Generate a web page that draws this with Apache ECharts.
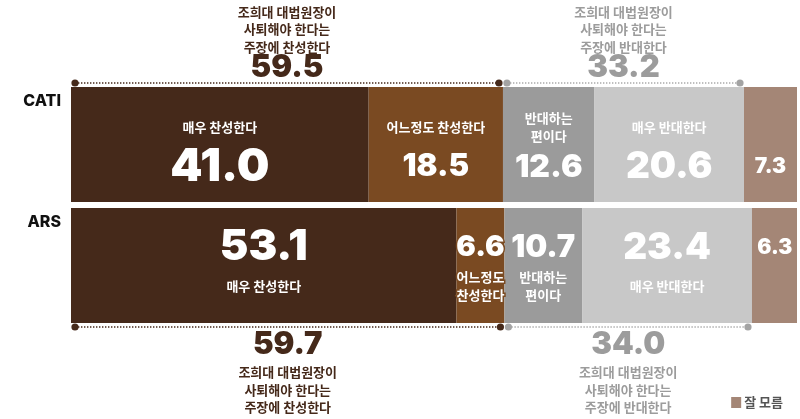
<!DOCTYPE html>
<html>
<head>
<meta charset="utf-8">
<script src="https://cdn.jsdelivr.net/npm/echarts@6/dist/echarts.min.js"></script>
<style>
html, body { margin: 0; padding: 0; background: #fff; }
#chart { width: 800px; height: 419px; }
</style>
</head>
<body>
<div id="chart"></div>
<script>
// survey rows and answer groups
var rows = ['CATI', 'ARS'];
var answers = ['매우 찬성한다', '어느정도 찬성한다', '반대하는 편이다', '매우 반대한다', '잘 모름'];
var catiValues = [41.0, 18.5, 12.6, 20.6, 7.3];
var arsValues = [53.1, 6.6, 10.7, 23.4, 6.3];
// names as printed inside the bars (line breaks differ per row)
var catiNames = ['매우 찬성한다', '어느정도 찬성한다', '반대하는\n편이다', '매우 반대한다', ''];
var arsNames = ['매우 찬성한다', '어느정도\n찬성한다', '반대하는\n편이다', '매우 반대한다', ''];
// summed groups: agree / oppose
var agreeTotals = [59.5, 59.7];
var opposeTotals = [33.2, 34.0];
var agreeCaption = '조희대 대법원장이\n사퇴해야 한다는\n주장에 찬성한다';
var opposeCaption = '조희대 대법원장이\n사퇴해야 한다는\n주장에 반대한다';

// styling
var colors = ['#45291a', '#7a4a22', '#9b9b9b', '#c8c8c8', '#a48676'];
var valueSizes = [[46, 31, 32, 37, 21], [43, 29, 31, 37, 21]];
var numFont = 'Inter';
var krFont = '"Noto Sans CJK KR"';
var BAR_W = 115;

var allValues = [catiValues, arsValues];
var allNames = [catiNames, arsNames];

// text labels inside segments: [start, end, row, segment]
var labelData = [];
allValues.forEach(function (vals, r) {
    var acc = 0;
    vals.forEach(function (v, i) {
        labelData.push([acc, acc + v, r, i]);
        acc += v;
    });
});

// brackets: [start, end, row, group]
var bracketData = [];
rows.forEach(function (name, r) {
    var vals = allValues[r];
    var agreeEnd = vals[0] + vals[1];
    var opposeEnd = agreeEnd + vals[2] + vals[3];
    bracketData.push([0, agreeEnd, r, 0]);
    bracketData.push([agreeEnd, opposeEnd, r, 1]);
});

function renderLabel(params, api) {
    var r = api.value(2), i = api.value(3);
    var p0 = api.coord([api.value(0), r]);
    var p1 = api.coord([api.value(1), r]);
    var cx = (p0[0] + p1[0]) / 2, cy = p0[1];
    var valueDy = r === 0 ? 22.5 : -18;
    var nameDy = r === 0 ? -17 : 21;
    var outline = (r === 1 && i === 1);
    var children = [{
        type: 'text',
        style: {
            text: allValues[r][i].toFixed(1),
            x: cx, y: cy + valueDy,
            align: 'center', verticalAlign: 'middle',
            fontSize: valueSizes[r][i], fontWeight: 900, fontFamily: numFont,
            fill: '#fff',
            stroke: outline ? colors[1] : null,
            lineWidth: outline ? 3 : 0
        }
    }];
    if (allNames[r][i]) {
        children.push({
            type: 'text',
            style: {
                text: allNames[r][i],
                x: cx, y: cy + nameDy,
                align: 'center', verticalAlign: 'middle',
                fontSize: 13, fontWeight: 'bold', fontFamily: krFont, lineHeight: 18,
                fill: '#fff',
                stroke: outline ? colors[1] : null,
                lineWidth: outline ? 3 : 0
            }
        });
    }
    // row name at the top-left of each bar
    if (i === 0) {
        children.push({
            type: 'text',
            style: {
                text: rows[r],
                x: p0[0] - 10, y: cy - BAR_W / 2 + 14,
                align: 'right', verticalAlign: 'middle',
                fontSize: 16, fontWeight: 800, fontFamily: numFont,
                fill: '#111'
            }
        });
    }
    return { type: 'group', children: children };
}

function renderBracket(params, api) {
    var r = api.value(2), g = api.value(3);
    var side = r === 0 ? -1 : 1;
    var p0 = api.coord([api.value(0), r]);
    var p1 = api.coord([api.value(1), r]);
    var y = p0[1] + side * (BAR_W / 2 + 4);
    var x0 = p0[0] + 4, x1 = p1[0] - 4;
    var lineCol = g === 0 ? colors[0] : '#ababab';
    var dotCol = g === 0 ? colors[0] : '#a3a3a3';
    var txtCol = g === 0 ? colors[0] : '#9c9c9c';
    var total = g === 0 ? agreeTotals[r] : opposeTotals[r];
    var cx = (p0[0] + p1[0]) / 2;
    return {
        type: 'group',
        children: [
            { type: 'line', shape: { x1: x0, y1: y, x2: x1, y2: y },
              style: { stroke: lineCol, lineWidth: 1.6, lineDash: [1.4, 1.6] } },
            { type: 'circle', shape: { cx: x0, cy: y, r: 3.6 }, style: { fill: dotCol } },
            { type: 'circle', shape: { cx: x1, cy: y, r: 3.6 }, style: { fill: dotCol } },
            { type: 'text', style: {
                text: total.toFixed(1), x: cx, y: y + (side < 0 ? -15.5 : 18),
                align: 'center', verticalAlign: 'middle',
                fontSize: 31, fontWeight: 900, fontFamily: numFont, fill: txtCol } },
            { type: 'text', style: {
                text: g === 0 ? agreeCaption : opposeCaption,
                x: cx, y: y + (side < 0 ? -53.5 : 63),
                align: 'center', verticalAlign: 'middle',
                fontSize: 13, fontWeight: 'bold', lineHeight: 17.5, fontFamily: krFont, fill: txtCol } }
        ]
    };
}

var series = answers.map(function (name, i) {
    return {
        name: name,
        type: 'bar',
        stack: 'total',
        barWidth: BAR_W,
        itemStyle: { color: colors[i] },
        data: [catiValues[i], arsValues[i]]
    };
});
series.push({
    type: 'custom',
    name: 'labels',
    renderItem: renderLabel,
    encode: { x: [0, 1], y: 2 },
    z: 5,
    silent: true,
    data: labelData
});
series.push({
    type: 'custom',
    name: 'brackets',
    renderItem: renderBracket,
    encode: { x: [0, 1], y: 2 },
    z: 5,
    silent: true,
    data: bracketData
});

var option = {
    animation: false,
    grid: { left: 71, right: 3, top: 84, height: 242 },
    legend: {
        data: ['잘 모름'],
        right: 12,
        bottom: 5,
        icon: 'rect',
        itemWidth: 10,
        itemHeight: 11,
        itemGap: 4,
        selectedMode: false,
        textStyle: { fontSize: 13, fontWeight: 'bold', color: '#555', fontFamily: krFont, padding: [0, 0, 0, -2] }
    },
    xAxis: { type: 'value', min: 0, max: 100, show: false },
    yAxis: {
        type: 'category',
        data: rows,
        inverse: true,
        axisLine: { show: false },
        axisTick: { show: false },
        axisLabel: { show: false }
    },
    series: series
};

var myChart = echarts.init(document.getElementById('chart'));
myChart.setOption(option);
</script>
</body>
</html>
